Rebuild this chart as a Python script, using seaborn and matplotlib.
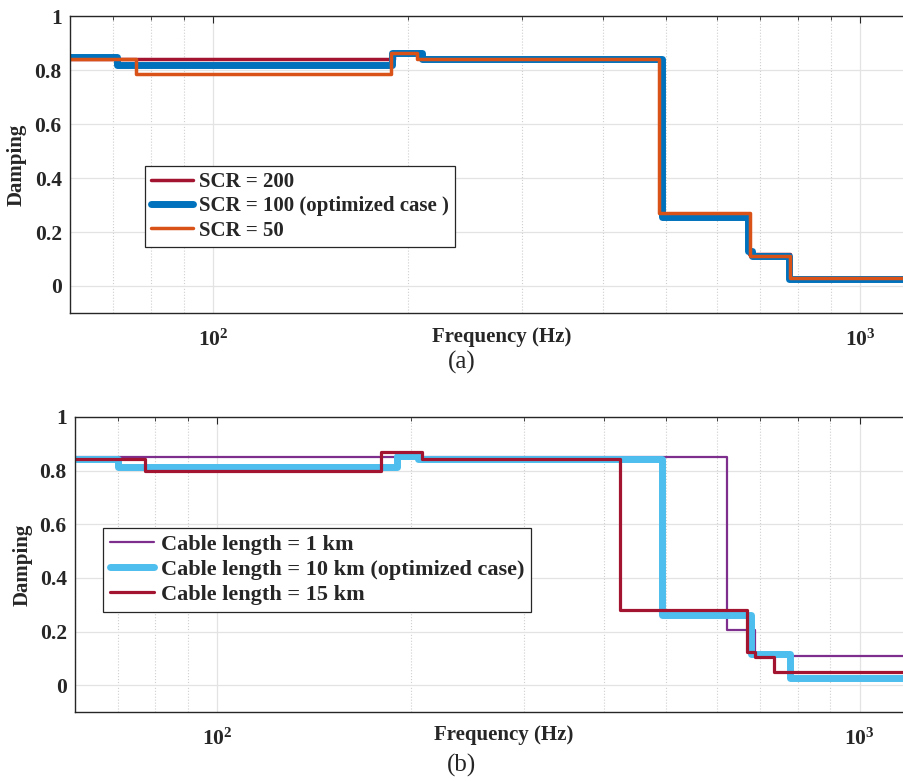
import numpy as np
import pandas as pd
import matplotlib
matplotlib.use("Agg")
import matplotlib.pyplot as plt
import seaborn as sns
from matplotlib.ticker import FixedLocator, NullFormatter

# ---------------- data ----------------
# (a) SCR cases: break frequencies (Hz) and damping levels (stairs)
scr200_f = [60, 190, 208, 490, 672, 778, 1300]
scr200_d = [0.84, 0.865, 0.845, 0.265, 0.12, 0.025, 0.025]
scr100_f = [60, 71, 189, 210, 493, 671, 681, 776, 1300]
scr100_d = [0.85, 0.82, 0.862, 0.84, 0.255, 0.13, 0.11, 0.025, 0.025]
scr50_f = [60, 76, 188, 206, 488, 676, 778, 1300]
scr50_d = [0.84, 0.785, 0.862, 0.84, 0.27, 0.11, 0.03, 0.03]
labels_a = ["SCR = 200", "SCR = 100 (optimized case )", "SCR = 50"]

# (b) Cable length cases
cab1_f = [60, 622, 686, 1300]
cab1_d = [0.85, 0.205, 0.11, 0.11]
cab10_f = [60, 70, 190, 205, 492, 677, 778, 1300]
cab10_d = [0.845, 0.815, 0.855, 0.845, 0.26, 0.115, 0.025, 0.025]
cab15_f = [60, 77, 180, 208, 424, 668, 687, 735, 1300]
cab15_d = [0.845, 0.80, 0.87, 0.845, 0.28, 0.125, 0.105, 0.05, 0.05]
labels_b = ["Cable length = 1 km", "Cable length = 10 km (optimized case)",
            "Cable length = 15 km"]

yticks = [0, 0.2, 0.4, 0.6, 0.8, 1]
ytick_labels = ["0", "0.2", "0.4", "0.6", "0.8", "1"]
xticks = [100, 1000]
xtick_labels = ["$10^{2}$", "$10^{3}$"]
minor_x = [60, 70, 80, 90, 200, 300, 400, 500, 600, 700, 800, 900]

# ---------------- style ----------------
sns.set_style("white")
plt.rcParams["font.family"] = ["Liberation Serif", "DejaVu Serif"]
plt.rcParams["font.weight"] = "bold"
plt.rcParams["mathtext.fontset"] = "custom"
plt.rcParams["mathtext.rm"] = "Liberation Serif:bold"
plt.rcParams["mathtext.it"] = "Liberation Serif:bold"
plt.rcParams["mathtext.bf"] = "Liberation Serif:bold"

W, H = 904, 781
fig = plt.figure(figsize=(W / 100, H / 100), dpi=100)

def px_axes(left, right, top, bottom):
    return fig.add_axes([left / W, 1 - bottom / H, (right - left) / W, (bottom - top) / H])

ax1 = px_axes(70, 934, 16, 313)
ax2 = px_axes(75, 933, 417, 712)

def draw(ax, f, d, label, color, lw):
    df = pd.DataFrame({"Frequency": f, "Damping": d})
    sns.lineplot(data=df, x="Frequency", y="Damping", ax=ax, color=color,
                 linewidth=lw, drawstyle="steps-post", label=label,
                 estimator=None, sort=False)

draw(ax1, scr200_f, scr200_d, labels_a[0], "#A2142F", 2.5)
draw(ax1, scr100_f, scr100_d, labels_a[1], "#0072BD", 5.0)
draw(ax1, scr50_f, scr50_d, labels_a[2], "#D95319", 2.5)

draw(ax2, cab1_f, cab1_d, labels_b[0], "#7E2F8E", 1.6)
draw(ax2, cab10_f, cab10_d, labels_b[1], "#4DBEEE", 5.0)
draw(ax2, cab15_f, cab15_d, labels_b[2], "#A2142F", 2.3)

settings = (
    (ax1, (0.0868, 0.495), 15, -0.050, -0.047),
    (ax2, (0.0326, 0.624), 16, -0.049, -0.044),
)
for ax, leg_anchor, lfs, ylx, xly in settings:
    ax.set_xscale("log")
    ax.set_xlim(60, 1300)
    ax.set_ylim(-0.1, 1)
    ax.set_xticks(xticks)
    ax.set_xticklabels(xtick_labels)
    ax.xaxis.set_minor_locator(FixedLocator(minor_x))
    ax.xaxis.set_minor_formatter(NullFormatter())
    ax.set_yticks(yticks)
    ax.set_yticklabels(ytick_labels)
    ax.tick_params(axis="both", which="both", direction="in", top=True,
                   right=False, labelsize=15.5, colors="#262626")
    ax.tick_params(axis="x", which="major", length=5, pad=12)
    ax.tick_params(axis="x", which="minor", length=3)
    ax.tick_params(axis="y", which="major", length=5, pad=6)
    ax.grid(which="major", color="#e3e3e3", linewidth=0.9, linestyle="-")
    ax.grid(which="minor", axis="x", color="#cfcfcf", linewidth=0.8, linestyle=":")
    ax.set_axisbelow(True)
    for s in ax.spines.values():
        s.set_color("#262626")
        s.set_linewidth(1.0)
    ax.set_xlabel("Frequency (Hz)", fontsize=15, fontweight="bold")
    ax.set_ylabel("Damping", fontsize=15, fontweight="bold")
    ax.xaxis.set_label_coords(0.5, xly)
    ax.yaxis.set_label_coords(ylx, 0.5)
    for lab in ax.get_xticklabels() + ax.get_yticklabels():
        lab.set_fontweight("bold")
    leg = ax.legend(loc="upper left", bbox_to_anchor=leg_anchor, frameon=True,
                    fancybox=False, edgecolor="#262626", framealpha=1,
                    handlelength=2.0, handletextpad=0.3, labelspacing=0.2,
                    borderpad=0.3, borderaxespad=0,
                    prop={"family": "Liberation Serif", "weight": "bold", "size": lfs})
    leg.get_frame().set_linewidth(0.9)

fig.text(462 / W, 1 - 362 / H, "(a)", ha="center", va="center", fontsize=18,
         fontweight="normal")
fig.text(462 / W, 1 - 765 / H, "(b)", ha="center", va="center", fontsize=18,
         fontweight="normal")

fig.savefig("out.png", dpi=100)
